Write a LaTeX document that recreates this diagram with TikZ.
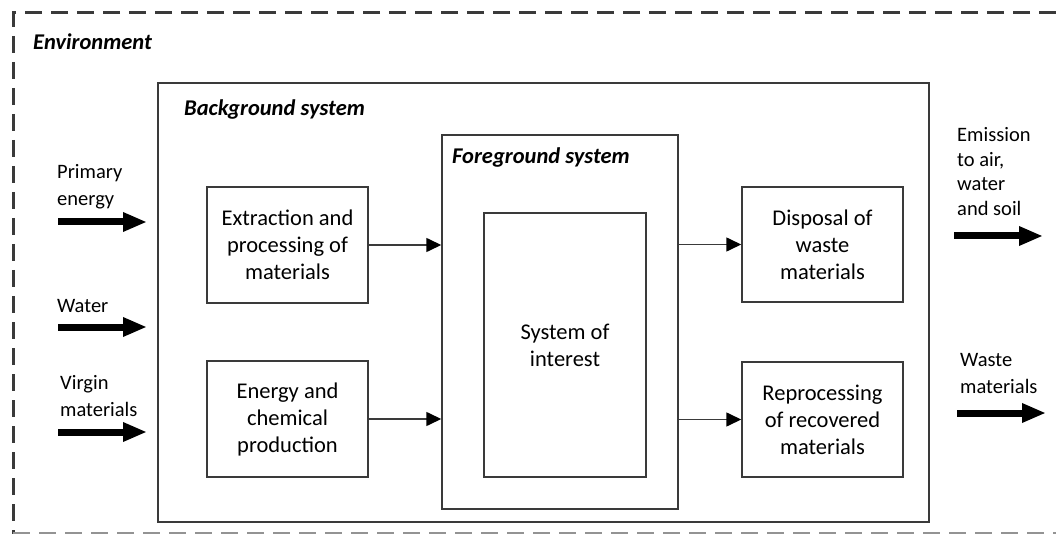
\documentclass[tikz,border=0pt]{standalone}
\usepackage{fontspec}
\setmainfont{Carlito}
\usetikzlibrary{arrows.meta}
\definecolor{edge}{HTML}{3A3A3A}
\tikzset{
  boxline/.style={draw=edge, line width=1.5pt},
  block/.style={boxline, inner sep=0pt, align=center,
    font=\fontsize{22.5}{27}\selectfont},
  title/.style={font=\fontsize{22.5}{26}\selectfont\bfseries\itshape, anchor=west, inner sep=0pt},
  lbl/.style={font=\fontsize{20.5}{27}\selectfont, align=left, anchor=west, inner sep=0pt},
  flow/.style={draw=edge, line width=1.6pt, -{Triangle[length=15pt,width=14pt,color=black]}},
  bigflow/.style={draw=black, line width=7pt, -{Triangle[length=24pt,width=18pt]}},
  frame/.style={draw=edge, line width=3pt, dash pattern=on 17pt off 9pt}
}
\begin{document}
\begin{tikzpicture}[x=1pt, y=-1pt]
\useasboundingbox (0,0) rectangle (1056,534);

% dashed system boundary of the environment
\draw[frame] (1056,13) -- (13,13) -- (13,534);
\draw[frame, draw=edge!55] (13,533) -- (1056,533);
\node[title] (env) at (33,42) {Environment};

% background system
\node[boxline, minimum width=771pt, minimum height=439pt, inner sep=0pt] (bg) at (543.5,302.5) {};
\node[title] (bgt) at (184,110) {Background system};

% foreground system and its core
\node[boxline, minimum width=236pt, minimum height=374pt, inner sep=0pt] (fg) at (560,322) {};
\node[title] (fgt) at (452,158) {Foreground system};
\node[block, minimum width=162pt, minimum height=264pt] (soi) at (565,345) {System of\\interest};

% supply processes
\node[block, minimum width=161pt, minimum height=116pt] (ext) at (287.5,245) {Extraction and\\processing of\\materials};
\node[block, minimum width=161pt, minimum height=116pt] (ene) at (287.5,419) {Energy and\\chemical\\production};

% end-of-life processes
\node[block, minimum width=161pt, minimum height=115pt] (disp) at (822.5,244.5) {Disposal of\\waste\\materials};
\node[block, minimum width=161pt, minimum height=115pt] (rep) at (822.5,419.5) {Reprocessing\\of recovered\\materials};

% internal flows
\draw[flow] (ext.east) -- (ext.east -| fg.west);
\draw[flow] (ene.east) -- (ene.east -| fg.west);
\draw[flow] (fg.east |- disp.west) -- (disp.west);
\draw[flow] (fg.east |- rep.west) -- (rep.west);

% exchanges with the environment
\node[lbl] (pe) at (57,186.5) {Primary\\energy};
\node[lbl] (wa) at (57,306) {Water};
\node[lbl] (vm) at (60,396) {Virgin\\materials};
\node[lbl, font=\fontsize{20.5}{24.5}\selectfont] (em) at (957,171.5) {Emission\\to air,\\water\\and soil};
\node[lbl] (wm) at (960,373.5) {Waste\\materials};

\coordinate (peA) at (58,222);  \coordinate (peB) at (147,222);
\coordinate (waA) at (58,327);  \coordinate (waB) at (147,327);
\coordinate (vmA) at (58,432);  \coordinate (vmB) at (147,432);
\coordinate (emA) at (954,236); \coordinate (emB) at (1043,236);
\coordinate (wmA) at (957,413); \coordinate (wmB) at (1046,413);

\draw[bigflow] (peA) -- (peB);
\draw[bigflow] (waA) -- (waB);
\draw[bigflow] (vmA) -- (vmB);
\draw[bigflow] (emA) -- (emB);
\draw[bigflow] (wmA) -- (wmB);
\end{tikzpicture}
\end{document}
